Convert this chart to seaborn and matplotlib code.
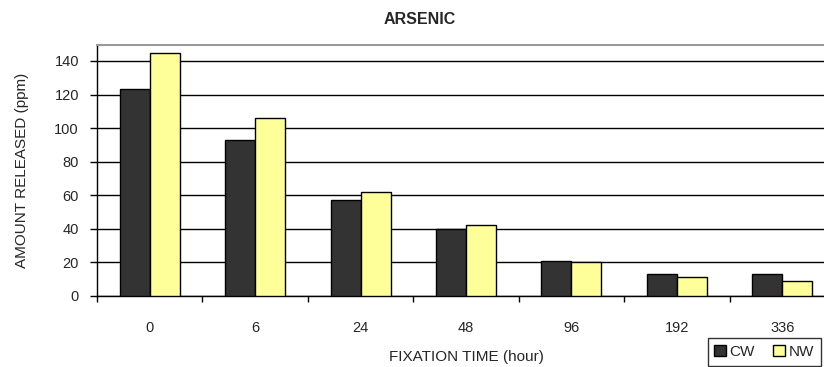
import pandas as pd
import matplotlib.pyplot as plt
import seaborn as sns
from matplotlib.ticker import FixedLocator

# Data
hours = ['0', '6', '24', '48', '96', '192', '336']
cw = [123, 93, 57, 40, 21, 13, 13]
nw = [145, 106, 62, 42, 20, 11.5, 9]

df = pd.DataFrame({
    'hour': hours * 2,
    'amount': cw + nw,
    'wood': ['CW'] * len(hours) + ['NW'] * len(hours),
})

sns.set_style('white')
plt.rcParams['font.family'] = ['Liberation Sans', 'DejaVu Sans']

fig = plt.figure(figsize=(8.24, 3.67), dpi=100)
ax = fig.add_axes([0.1177, 0.1935, 0.8956, 0.6839])

sns.barplot(data=df, x='hour', y='amount', hue='wood', order=hours,
            palette={'CW': '#333333', 'NW': '#ffff99'}, width=0.57,
            edgecolor='black', linewidth=1, saturation=1, ax=ax,
            legend=False, zorder=3)

ax.set_xlim(-0.5, 6.5)
ax.set_ylim(0, 149.5)
ax.yaxis.set_major_locator(FixedLocator(range(0, 141, 20)))
ax.yaxis.grid(True, color='black', linewidth=1)
ax.set_axisbelow(True)

# category boundary tick marks on the x axis
ax.xaxis.set_minor_locator(FixedLocator([i - 0.5 for i in range(8)]))
ax.tick_params(axis='x', which='major', length=0, pad=18, labelsize=10.5)
ax.tick_params(axis='x', which='minor', length=4, width=1, color='black', direction='out', bottom=True)
ax.tick_params(axis='y', length=5, width=1, color='black', direction='out', left=True, labelsize=10.5, pad=8)

for side in ['left', 'bottom']:
    ax.spines[side].set_color('black')
    ax.spines[side].set_linewidth(1)
ax.spines['top'].set_color('#999999')
ax.spines['top'].set_linewidth(1.5)
ax.spines['right'].set_visible(False)

ax.set_xlabel('FIXATION TIME (hour)', fontsize=11, labelpad=11)
ax.set_ylabel('AMOUNT RELEASED (ppm)', fontsize=11, labelpad=18)
fig.text(420 / 824, 1 - 20 / 367, 'ARSENIC', ha='center', va='center',
         fontsize=11.5, fontweight='bold')

handles = [plt.Rectangle((0, 0), 1, 1, facecolor=c, edgecolor='black')
           for c in ['#333333', '#ffff99']]
leg = fig.legend(handles, ['CW', 'NW'], loc='lower left',
                 bbox_to_anchor=(703 / 824, -0.01), ncol=2, frameon=True,
                 fancybox=False, edgecolor='black', fontsize=11,
                 handlelength=0.75, handleheight=0.75, handletextpad=0.25,
                 columnspacing=1.2, borderpad=0.45, borderaxespad=0.3)
leg.get_frame().set_linewidth(1)

plt.savefig('out.png', dpi=100)
